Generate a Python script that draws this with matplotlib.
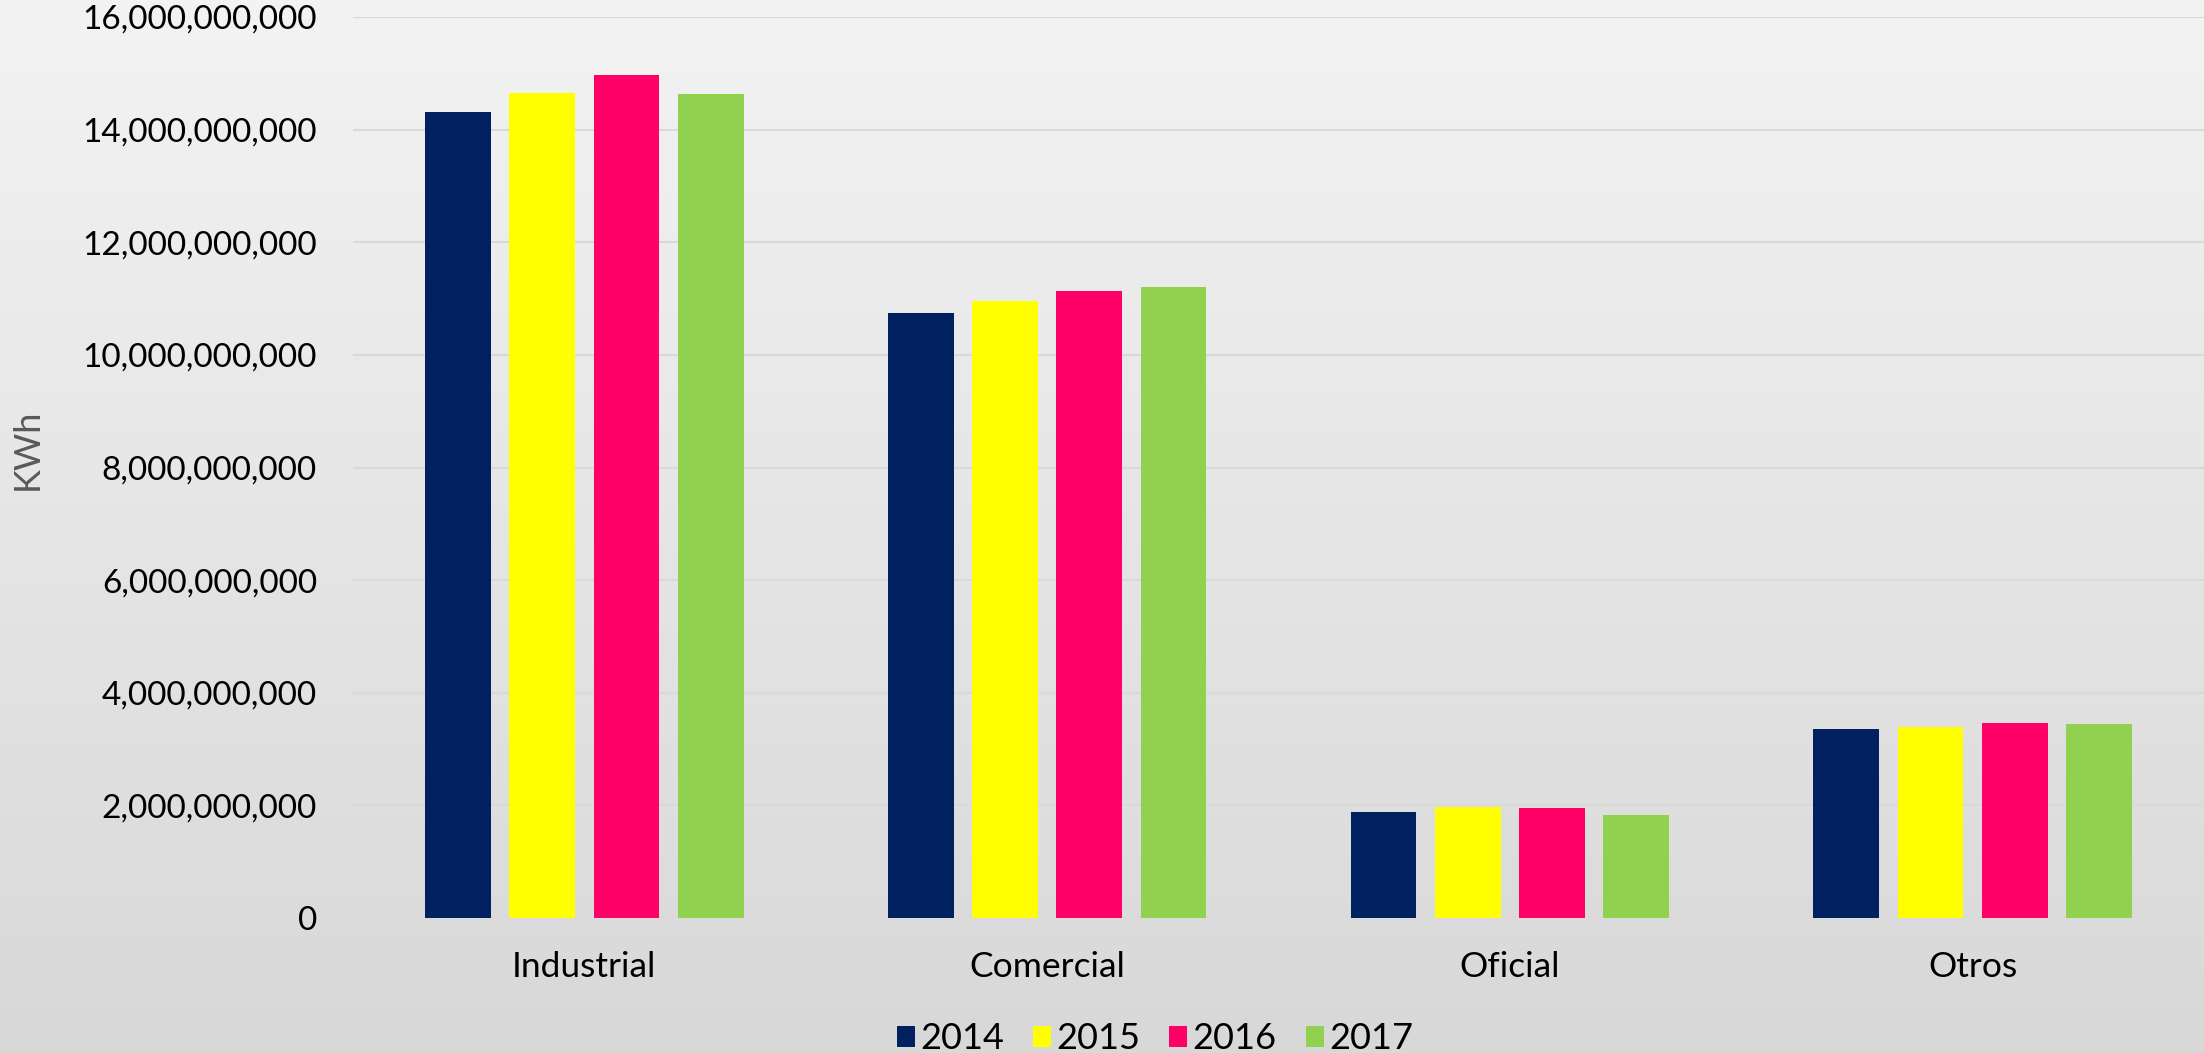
import numpy as np
import matplotlib.pyplot as plt
from matplotlib.ticker import FuncFormatter
from matplotlib.colors import LinearSegmentedColormap

# datos de consumo por sector (KWh)
sectores = ["Industrial", "Comercial", "Oficial", "Otros"]
anios = ["2014", "2015", "2016", "2017"]
v2014 = [14.32e9, 10.74e9, 1.88e9, 3.35e9]
v2015 = [14.65e9, 10.96e9, 1.98e9, 3.40e9]
v2016 = [14.97e9, 11.14e9, 1.96e9, 3.47e9]
v2017 = [14.63e9, 11.21e9, 1.83e9, 3.45e9]
colores = ["#002060", "#FFFF00", "#FF0066", "#92D050"]

plt.rcParams['font.family'] = ['Lato', 'DejaVu Sans']

fig = plt.figure(figsize=(22.04, 10.53), dpi=100)

# fondo con degradado
bg = fig.add_axes([0, 0, 1, 1], zorder=-10)
cmap = LinearSegmentedColormap.from_list("fondo", ["#f3f3f3", "#d8d8d8"])
bg.imshow(np.linspace(0, 1, 256).reshape(-1, 1), aspect="auto", cmap=cmap,
          extent=[0, 1, 0, 1])
bg.axis("off")

ax = fig.add_axes([353 / 2204, 1 - 918 / 1053, (2204 - 353) / 2204, (918 - 17) / 1053])
ax.set_facecolor("none")

x = np.arange(len(sectores))
ancho = 0.142
paso = 0.182
for i, (serie, anio) in enumerate(zip([v2014, v2015, v2016, v2017], anios)):
    ax.bar(x + (i - 1.5) * paso, serie, width=ancho, color=colores[i], label=anio, zorder=3)

ax.set_xlim(-0.5, 3.5)
ax.set_ylim(0, 16e9)
ax.set_yticks(np.arange(0, 16.1e9, 2e9))
ax.yaxis.set_major_formatter(FuncFormatter(lambda v, p: f"{v:,.0f}"))
ax.set_xticks(x)
ax.set_xticklabels(sectores)
ax.grid(axis="y", color="#d9d9d9", linewidth=1.5, zorder=0)
ax.tick_params(axis="both", length=0, colors="black")
ax.tick_params(axis="y", pad=26, labelsize=24)
ax.tick_params(axis="x", pad=24, labelsize=25.5)
for s in ax.spines.values():
    s.set_visible(False)

ax.set_ylabel("KWh", fontsize=26, color="#595959")
ax.yaxis.set_label_coords(-0.167, 0.52)

fig.legend(loc="lower center", bbox_to_anchor=(0.524, -0.033), ncol=4, frameon=False,
           fontsize=26, handlelength=0.5, handleheight=0.5, handletextpad=0.15,
           columnspacing=0.8)

plt.savefig("out.png", dpi=100)
